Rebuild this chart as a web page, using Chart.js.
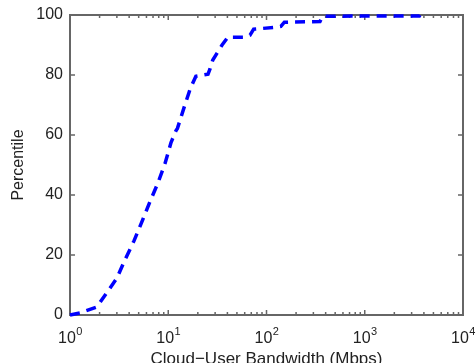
<!DOCTYPE html>
<html><head><meta charset="utf-8">
<script src="https://cdn.jsdelivr.net/npm/chart.js@4/dist/chart.umd.min.js"></script>
<style>html,body{margin:0;padding:0;background:#fff;}#wrap{width:476px;height:363px;}</style>
</head><body><div id="wrap"><canvas id="c" width="476" height="363"></canvas></div>
<script>
// ---- data ----
const bandwidthMbps = [1, 1.26, 1.88, 2.32, 3.01, 3.63, 4.48, 5.40, 6.52, 7.87, 9.27, 10.67, 12.0, 12.4, 14.5, 16.7, 19.1, 25.4, 26.6, 28.4, 35.3, 40.4, 59, 68, 74, 117, 140, 152, 350, 372, 3600, 3650];
const percentile    = [0, 0.7, 2.7, 7.0, 12.4, 18.4, 24.7, 31.1, 37.8, 44.1, 50.5, 57.5, 61.5, 62.2, 69.2, 75.3, 79.6, 80.3, 82.0, 85.0, 90.0, 92.6, 92.6, 93.3, 95.3, 95.8, 96.2, 97.6, 97.8, 99.6, 99.7, 100];
const xMajorTicks   = [1, 10, 100, 1000, 10000];
const xTickBase     = '10';
const xTickExponents = ['0', '1', '2', '3', '4'];
const yTickValues   = [0, 20, 40, 60, 80, 100];
const xTitle = 'Cloud\u2212User Bandwidth (Mbps)';
const yTitle = 'Percentile';

// all log-scale tick positions (majors + minors 2..9 per decade)
const xAllTicks = [];
for (let i = 0; i < xMajorTicks.length; i++) {
  xAllTicks.push(xMajorTicks[i]);
  if (i < xMajorTicks.length - 1) for (let m = 2; m <= 9; m++) xAllTicks.push(m * xMajorTicks[i]);
}

const AXIS_COLOR = '#666';
const TEXT_COLOR = '#222';
const FONT = "'Liberation Sans', Arial, sans-serif";
Chart.defaults.font.family = FONT;
Chart.defaults.color = TEXT_COLOR;

const boxTicks = {
  id: 'boxTicks',
  beforeDatasetsDraw(chart) {
    const {ctx, chartArea: {left, right, top, bottom}, scales: {x, y}} = chart;
    ctx.save();
    ctx.strokeStyle = AXIS_COLOR;
    ctx.lineWidth = 1.5;
    ctx.beginPath();
    x.ticks.forEach(t => {
      const px = x.getPixelForValue(t.value);
      const len = xMajorTicks.includes(t.value) ? 5 : 3;
      ctx.moveTo(px, bottom); ctx.lineTo(px, bottom - len);
      ctx.moveTo(px, top); ctx.lineTo(px, top + len);
    });
    y.ticks.forEach(t => {
      const py = y.getPixelForValue(t.value);
      ctx.moveTo(left, py); ctx.lineTo(left + 5, py);
      ctx.moveTo(right, py); ctx.lineTo(right - 5, py);
    });
    ctx.stroke();
    ctx.lineWidth = 2;
    ctx.strokeRect(left, top, right - left, bottom - top);
    ctx.restore();
  },
  afterDraw(chart) {
    // power-of-ten labels with raised exponent, placed at the x scale's major ticks
    const {ctx, chartArea: {bottom}, scales: {x}} = chart;
    ctx.save();
    ctx.fillStyle = TEXT_COLOR;
    ctx.textBaseline = 'alphabetic';
    ctx.textAlign = 'left';
    xMajorTicks.forEach((v, i) => {
      const px = x.getPixelForValue(v);
      ctx.font = '16px ' + FONT;
      const wb = ctx.measureText(xTickBase).width;
      ctx.font = '11px ' + FONT;
      const we = ctx.measureText(xTickExponents[i]).width;
      const x0 = px - (wb + we) / 2;
      ctx.font = '16px ' + FONT;
      ctx.fillText(xTickBase, x0, bottom + 28);
      ctx.font = '11px ' + FONT;
      ctx.fillText(xTickExponents[i], x0 + wb + 0.5, bottom + 20);
    });
    ctx.restore();
  }
};

new Chart(document.getElementById('c'), {
  type: 'line',
  data: {
    datasets: [{
      data: bandwidthMbps.map((v, i) => ({x: v, y: percentile[i]})),
      borderColor: '#0000ff',
      borderWidth: 3.5,
      borderDash: [10, 7],
      pointRadius: 0,
      tension: 0,
      fill: false,
      clip: false
    }]
  },
  options: {
    responsive: false,
    devicePixelRatio: 1,
    animation: false,
    layout: {padding: {top: 15, right: 13, left: 0, bottom: 0}},
    plugins: {legend: {display: false}, tooltip: {enabled: false}},
    scales: {
      x: {
        type: 'logarithmic',
        min: 1, max: 10000,
        grid: {display: false, drawTicks: false},
        border: {display: false},
        afterBuildTicks: s => { s.ticks = xAllTicks.map(v => ({value: v, major: xMajorTicks.includes(v)})); },
        ticks: {display: false, autoSkip: false, maxRotation: 0, minRotation: 0},
        title: {display: true, text: xTitle, font: {size: 17, lineHeight: 0.4}, padding: 0, color: TEXT_COLOR},
        afterFit: s => { s.height = 48; s.paddingLeft = 0; s.paddingRight = 0; }
      },
      y: {
        type: 'linear',
        min: 0, max: 100,
        grid: {display: false, drawTicks: false},
        border: {display: false},
        afterBuildTicks: s => { s.ticks = yTickValues.map(v => ({value: v})); },
        ticks: {padding: 7, font: {size: 16}},
        title: {display: true, text: yTitle, font: {size: 16}, padding: {top: 9.4, bottom: 0}, color: TEXT_COLOR},
        afterFit: s => { s.width = 70; s.paddingTop = 0; s.paddingBottom = 0; }
      }
    }
  },
  plugins: [boxTicks]
});
</script>
</body></html>
